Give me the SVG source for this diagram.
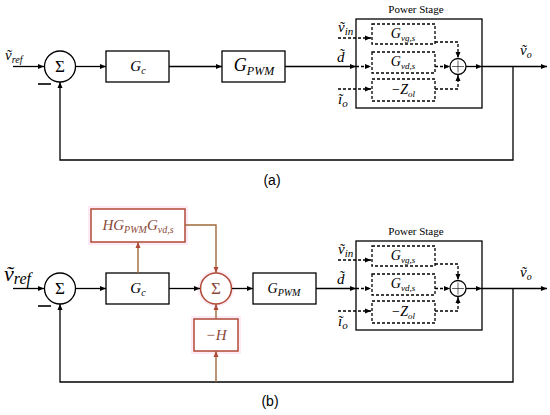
<svg xmlns="http://www.w3.org/2000/svg" width="550" height="415" viewBox="0 0 550 415">
<style>
.ln{stroke:#000;stroke-width:1.3;fill:none}
.ds{stroke-dasharray:3 2}
.bx{fill:#fff;stroke:#000;stroke-width:1.3}
.dbx{fill:#fff;stroke:#000;stroke-width:1.3;stroke-dasharray:3 2}
.m{font-style:italic;fill:#000}
.up{fill:#000}
.cap{font-size:14px;fill:#000;text-anchor:middle}
.rl{stroke:#a06a3a;stroke-width:1.4;fill:none}
.rb{fill:#fff;stroke:#b04a36;stroke-width:1.5}
.halo{fill:#fdeaf5;stroke:none}
.rt{fill:#8b4a38}
.mid{text-anchor:middle}
</style>
<defs>
<marker id="ar" markerWidth="6" markerHeight="6" refX="6" refY="3" orient="auto" markerUnits="userSpaceOnUse">
<path d="M0,0.5 L6,3 L0,5.5 z" fill="#000"/>
</marker>
<marker id="arr" markerWidth="6" markerHeight="6" refX="6" refY="3" orient="auto" markerUnits="userSpaceOnUse">
<path d="M0,0.5 L6,3 L0,5.5 z" fill="#b04a36"/>
</marker>
</defs>
<rect width="550" height="415" fill="#fff"/>

<g font-family="'Liberation Serif', 'DejaVu Serif', serif">
<!-- ===== (a) ===== -->
<g id="a-vref"><text class="m" x="5" y="60" font-size="15">ṽ<tspan dy="3" font-size="10">ref</tspan></text></g>
<g id="a-sum"><circle cx="60" cy="66.5" r="15.5" class="bx"/><text class="up mid" x="60" y="72" font-size="17">Σ</text>
<line x1="38" y1="84" x2="51" y2="84" stroke="#000" stroke-width="1.6"/></g>
<g id="a-gc"><rect x="106" y="51" width="63" height="31" class="bx"/><text class="m mid" x="138" y="71" font-size="15">G<tspan dy="3" font-size="10">c</tspan></text></g>
<g id="a-gpwm"><rect x="222" y="51" width="63" height="31" class="bx"/><text class="m mid" x="254" y="71" font-size="18">G<tspan dy="4" font-size="12">PWM</tspan></text></g>
<g id="a-power">
<rect x="356" y="19" width="126" height="89" class="bx"/>
<text class="up mid" x="416" y="13" font-size="11">Power Stage</text>
<rect x="372" y="24" width="63" height="20" class="dbx"/><text class="m mid" x="403" y="38" font-size="14">G<tspan dy="3" font-size="9">vg,s</tspan></text>
<rect x="372" y="52" width="63" height="21" class="dbx"/><text class="m mid" x="403" y="66" font-size="14">G<tspan dy="3" font-size="9">vd,s</tspan></text>
<rect x="372" y="79" width="63" height="22" class="dbx"/><text class="m mid" x="403" y="94" font-size="14">−Z<tspan dy="3" font-size="9">ol</tspan></text>
<circle cx="458" cy="66.5" r="8" class="bx"/><path d="M452,66.5 H464 M458,60.5 V72.5" stroke="#000" stroke-width="0.6"/>
</g>
<g id="a-labels">
<text class="m" x="338" y="32" font-size="15">ṽ<tspan dy="3" font-size="11">in</tspan></text>
<text class="m" x="337" y="62" font-size="15">d̃</text>
<text class="m" x="338" y="104" font-size="15">ĩ<tspan dy="3" font-size="11">o</tspan></text>
<text class="m" x="520" y="55" font-size="15">ṽ<tspan dy="3" font-size="10">o</tspan></text>
</g>

<!-- ===== (b) ===== -->
<g id="b-vref"><text class="m" x="4" y="281" font-size="22">ṽ<tspan dy="3" font-size="16">ref</tspan></text></g>
<g id="b-sum"><circle cx="60" cy="288.5" r="15.5" class="bx"/><text class="up mid" x="60" y="294" font-size="17">Σ</text>
<line x1="38" y1="306" x2="51" y2="306" stroke="#000" stroke-width="1.6"/></g>
<g id="b-gc"><rect x="106" y="273" width="63" height="31" class="bx"/><text class="m mid" x="138" y="293" font-size="15">G<tspan dy="3" font-size="10">c</tspan></text></g>
<g id="b-hg"><rect x="88" y="206" width="100" height="39" class="halo"/><rect x="91" y="209" width="94" height="33" class="rb"/>
<text class="m mid rt" x="138" y="230" font-size="15">HG<tspan dy="3" font-size="10">PWM</tspan><tspan dy="-3">G</tspan><tspan dy="3" font-size="10">vd,s</tspan></text></g>
<g id="b-rsum"><circle cx="216" cy="288.5" r="18" class="halo"/><circle cx="216" cy="288.5" r="15.5" class="rb"/><text class="up mid rt" x="216" y="294" font-size="17">Σ</text></g>
<g id="b-h"><rect x="191" y="316" width="50" height="38" class="halo"/><rect x="194" y="319" width="44" height="32" class="rb"/><text class="m mid rt" x="216" y="340" font-size="15">−H</text></g>
<g id="b-gpwm"><rect x="253" y="273" width="63" height="31" class="bx"/><text class="m mid" x="284" y="293" font-size="14">G<tspan dy="3" font-size="10">PWM</tspan></text></g>
<g id="b-power" transform="translate(0,222)">
<rect x="356" y="19" width="126" height="89" class="bx"/>
<text class="up mid" x="416" y="13" font-size="11">Power Stage</text>
<rect x="372" y="24" width="63" height="20" class="dbx"/><text class="m mid" x="403" y="38" font-size="14">G<tspan dy="3" font-size="9">vg,s</tspan></text>
<rect x="372" y="52" width="63" height="21" class="dbx"/><text class="m mid" x="403" y="66" font-size="14">G<tspan dy="3" font-size="9">vd,s</tspan></text>
<rect x="372" y="79" width="63" height="22" class="dbx"/><text class="m mid" x="403" y="94" font-size="14">−Z<tspan dy="3" font-size="9">ol</tspan></text>
<circle cx="458" cy="66.5" r="8" class="bx"/><path d="M452,66.5 H464 M458,60.5 V72.5" stroke="#000" stroke-width="0.6"/>
</g>
<g id="b-labels">
<text class="m" x="338" y="254" font-size="15">ṽ<tspan dy="3" font-size="11">in</tspan></text>
<text class="m" x="337" y="284" font-size="15">d̃</text>
<text class="m" x="338" y="326" font-size="15">ĩ<tspan dy="3" font-size="11">o</tspan></text>
<text class="m" x="520" y="277" font-size="15">ṽ<tspan dy="3" font-size="10">o</tspan></text>
</g>
</g>

<g font-family="'Liberation Sans', Arial, sans-serif">
<text id="cap-a" class="cap" x="272" y="185">(a)</text>
<text id="cap-b" class="cap" x="270" y="406">(b)</text>
</g>

<g id="connectors">
<path class="ln" d="M13,66.5 H44" marker-end="url(#ar)"/>
<path class="ln" d="M76,66.5 H106" marker-end="url(#ar)"/>
<path class="ln" d="M169,66.5 H222" marker-end="url(#ar)"/>
<path class="ln" d="M285,66.5 H356" marker-end="url(#ar)"/>
<path class="ln ds" d="M356,66.5 H371" marker-end="url(#ar)"/>
<path class="ln ds" d="M338,38 H371" marker-end="url(#ar)"/>
<path class="ln ds" d="M338,89 H371" marker-end="url(#ar)"/>
<path class="ln ds" d="M435,42 H458 V58" marker-end="url(#ar)"/>
<path class="ln ds" d="M435,66.5 H450" marker-end="url(#ar)"/>
<path class="ln ds" d="M435,89 H458 V75" marker-end="url(#ar)"/>
<path class="ln" d="M466,66.5 H482" marker-end="url(#ar)"/>
<path class="ln" d="M482,66.5 H547" marker-end="url(#ar)"/>
<path class="ln" d="M513,66.5 V160 H60 V82" marker-end="url(#ar)"/>

<path class="ln" d="M13,288.5 H44" marker-end="url(#ar)"/>
<path class="ln" d="M76,288.5 H106" marker-end="url(#ar)"/>
<path class="ln" d="M169,288.5 H200" marker-end="url(#ar)"/>
<path class="ln" d="M232,288.5 H253" marker-end="url(#ar)"/>
<path class="ln" d="M316,288.5 H356" marker-end="url(#ar)"/>
<path class="ln ds" d="M356,288.5 H371" marker-end="url(#ar)"/>
<path class="ln ds" d="M338,260 H371" marker-end="url(#ar)"/>
<path class="ln ds" d="M338,311 H371" marker-end="url(#ar)"/>
<path class="ln ds" d="M435,264 H458 V280" marker-end="url(#ar)"/>
<path class="ln ds" d="M435,288.5 H450" marker-end="url(#ar)"/>
<path class="ln ds" d="M435,311 H458 V297" marker-end="url(#ar)"/>
<path class="ln" d="M466,288.5 H482" marker-end="url(#ar)"/>
<path class="ln" d="M482,288.5 H547" marker-end="url(#ar)"/>
<path class="ln" d="M513,288.5 V382 H60 V304" marker-end="url(#ar)"/>
<path class="rl" d="M138,273 V242" marker-end="url(#arr)"/>
<path class="rl" d="M185,225 H216 V273" marker-end="url(#arr)"/>
<path class="rl" d="M216,319 V304" marker-end="url(#arr)"/>
<path class="rl" d="M216,382 V351" marker-end="url(#arr)"/>
</g>
</svg>
